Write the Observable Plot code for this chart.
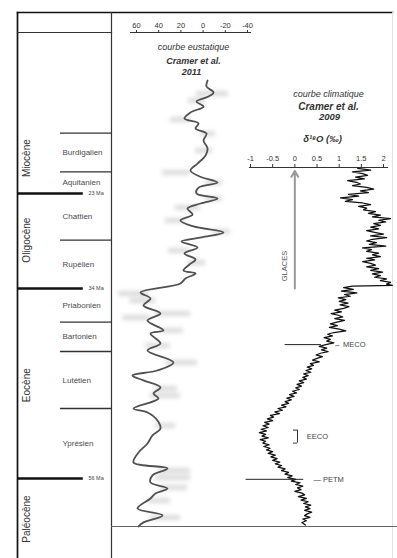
<!DOCTYPE html>
<html>
<head>
<meta charset="utf-8">
<script src="https://cdn.jsdelivr.net/npm/d3@7"></script>
<script src="https://cdn.jsdelivr.net/npm/@observablehq/plot@0.6"></script>
<style>
  html, body { margin: 0; padding: 0; background: #fff; }
  #chart { position: relative; width: 397px; height: 558px; overflow: hidden; }
  #chart svg { position: absolute; left: 0; top: 0; }
</style>
</head>
<body>
<div id="chart"></div>
<script>
// ---- stratigraphy (ages in Ma) ----
const epochNames = ["Miocène", "Oligocène", "Eocène", "Paléocène"];
const epochLabelAge = [18.9, 28.4, 45.2, 60.7];
const epochBoundaryAge = [23, 34, 56];

const stageNames = ["Burdigalien", "Aquitanien", "Chattien", "Rupélien", "Priabonien", "Bartonien", "Lutétien", "Yprésien"];
const stageTop  = [16.0, 20.5, 23, 28.4, 34, 37.9, 41.3, 47.9];
const stageBase = [20.5, 23, 28.4, 34, 37.9, 41.3, 47.9, 56];
const stageLineAge = [16.0, 20.5, 28.4, 37.9, 41.3, 47.9];

// ---- eustatic curve (sea level, m) ----
const seaLevelTicks = [60, 40, 20, 0, -20, -40];
const eustaticAge = [9.92, 10.61, 11.30, 11.77, 12.35, 12.93, 13.62, 14.32, 14.89, 15.47,
  16.05, 16.86, 17.79, 18.60, 19.53, 20.34, 21.03, 21.73, 22.31, 23.00,
  23.58, 24.16, 24.74, 25.43, 26.13, 26.82, 27.52, 28.09, 28.56, 29.25,
  29.95, 30.64, 31.22, 31.92, 32.26, 32.84, 33.42, 34.46, 35.16, 35.97,
  36.90, 37.71, 38.86, 39.21, 40.37, 41.18, 42.57, 43.50, 44.07, 44.65,
  45.46, 46.16, 46.74, 47.90, 48.36, 49.29, 50.21, 51.02, 51.95, 52.99,
  54.15, 54.84, 55.65, 56.46, 57.16, 57.74, 58.32, 59.47, 60.28, 61.09, 61.56];
const seaLevel = [-4.0, -3.1, -9.4, -4.9, 5.9, -0.4, 11.4, 16.8, 4.1, 6.8,
  -3.1, -0.4, -4.0, -2.2, 5.0, 11.4, 3.2, -13.0, 4.1, 5.9,
  -13.0, 2.3, 14.1, 9.5, 20.4, 8.6, -18.4, 1.4, 19.5, 5.0,
  16.8, 6.8, 12.3, 17.7, 6.8, 15.9, 20.4, 56.4, 47.4, 53.7,
  38.4, 50.1, 35.7, 47.4, 38.4, 50.1, 26.7, 41.1, 63.6, 53.7,
  38.4, 44.7, 40.2, 62.7, 50.1, 41.1, 38.4, 45.6, 50.1, 58.2,
  62.7, 32.1, 45.6, 47.4, 32.1, 42.9, 47.4, 59.1, 36.6, 53.7, 58.2];
// uncertainty streaks around the sea-level estimate
const rangeAge  = [11.42, 12.23, 14.43, 16.05, 18.02, 20.57, 21.73, 23.58, 24.62, 26.13,
  27.40, 29.60, 30.99, 34.58, 35.39, 36.90, 37.36, 38.86, 40.60, 42.57,
  45.58, 46.39, 49.86, 55.07, 55.89, 57.04, 58.55, 60.52];
const rangeHigh = [5.9, 13.2, 29.4, 2.3, 6.8, 36.6, -2.2, -2.2, 24.9, 33.9,
  -8.5, 31.2, 13.2, 76.2, 65.8, 42.9, 72.5, 38.4, 51.9, 33.9,
  42.9, 47.4, 42.9, 40.2, 42.9, 38.4, 49.2, 47.4];
const rangeLow  = [-22.9, -2.2, 11.4, -11.2, -8.5, 11.4, -17.5, -17.5, 2.3, 15.9,
  -24.7, 11.4, -2.2, 49.2, 42.9, 11.4, 47.4, 17.7, 29.4, 5.0,
  23.1, 20.4, 24.9, 11.4, 11.4, 14.1, 29.4, 20.4];

// ---- climate curve (benthic δ18O, ‰) ----
const d18OTicks = [-1, -0.5, 0, 0.5, 1, 1.5, 2];
const climateAge = [20.1, 20.3, 20.5, 20.7, 20.9, 21.1, 21.3, 21.5, 21.7, 21.9,
  22.1, 22.3, 22.5, 22.7, 22.9, 23.1, 23.3, 23.5, 23.7, 23.9,
  24.1, 24.3, 24.5, 24.7, 24.9, 25.1, 25.3, 25.5, 25.7, 25.9,
  26.1, 26.3, 26.5, 26.7, 26.9, 27.1, 27.3, 27.5, 27.7, 27.9,
  28.1, 28.3, 28.5, 28.7, 28.9, 29.1, 29.3, 29.5, 29.7, 29.9,
  30.1, 30.3, 30.5, 30.7, 30.9, 31.1, 31.3, 31.5, 31.7, 31.9,
  32.1, 32.3, 32.5, 32.7, 32.9, 33.1, 33.3, 33.5, 33.65,
  33.72, 33.9, 34.1, 34.3, 34.5, 34.7, 34.9, 35.1, 35.3, 35.5,
  35.7, 35.9, 36.1, 36.3, 36.5, 36.7, 36.9, 37.1, 37.3, 37.5,
  37.7, 37.9, 38.1, 38.3, 38.5, 38.7, 38.9, 39.1, 39.3, 39.5,
  39.7, 39.9, 40.1, 40.3, 40.5, 40.7, 40.9, 41.1, 41.3, 41.5,
  41.7, 41.9, 42.1, 42.3, 42.5, 42.7, 42.9, 43.1, 43.3, 43.5,
  43.7, 43.9, 44.1, 44.3, 44.5, 44.7, 44.9, 45.1, 45.3, 45.5,
  45.7, 45.9, 46.1, 46.3, 46.5, 46.7, 46.9, 47.1, 47.3, 47.5,
  47.7, 47.9, 48.1, 48.3, 48.5, 48.7, 48.9, 49.1, 49.3, 49.5,
  49.7, 49.9, 50.1, 50.3, 50.5, 50.7, 50.9, 51.1, 51.3, 51.5,
  51.7, 51.9, 52.1, 52.3, 52.5, 52.7, 52.9, 53.1, 53.3, 53.5,
  53.7, 53.9, 54.1, 54.3, 54.5, 54.7, 54.9, 55.1, 55.3, 55.5,
  55.7, 55.9, 56.1, 56.3, 56.5, 56.7, 56.9, 57.1, 57.3, 57.5,
  57.7, 57.9, 58.1, 58.3, 58.5, 58.7, 58.9, 59.1, 59.3, 59.5,
  59.7, 59.9, 60.1, 60.3, 60.5, 60.7, 60.9, 61.1, 61.4];
const climateD18O = [1.42, 1.71, 1.30, 1.53, 1.64, 1.37, 1.57, 1.19, 1.39, 1.48,
  1.30, 1.62, 1.78, 1.48, 1.66, 1.21, 1.44, 1.03, 1.30, 1.14,
  1.53, 1.71, 1.44, 1.62, 1.55, 1.82, 1.66, 1.93, 1.75, 2.16,
  1.89, 2.05, 1.78, 1.93, 1.71, 1.89, 1.62, 1.80, 2.00, 1.71,
  2.07, 1.75, 1.62, 1.84, 1.68, 2.05, 1.53, 1.73, 1.62, 1.89,
  1.75, 1.93, 1.62, 1.80, 1.53, 1.71, 1.82, 1.62, 1.89, 1.71,
  1.98, 1.75, 1.93, 1.80, 2.07, 1.93, 2.16, 2.07, 2.20,
  1.30, 1.10, 1.32, 1.05, 1.40, 1.12, 1.25, 0.98, 1.15, 1.00,
  1.20, 1.02, 1.22, 1.10, 0.90, 1.05, 0.82, 0.98, 1.08, 0.90,
  1.12, 0.95, 0.80, 0.96, 0.78, 1.00, 1.15, 0.88, 0.74, 0.85,
  0.66, 0.80, 0.72, 0.88, 0.70, 0.55, 0.72, 0.60, 0.75, 0.58,
  0.48, 0.62, 0.50, 0.40, 0.55, 0.35, 0.42, 0.28, 0.38, 0.25,
  0.36, 0.20, 0.30, 0.18, 0.26, 0.10, 0.20, 0.05, 0.15, 0.02,
  0.10, -0.05, 0.04, -0.12, -0.02, -0.18, -0.08, -0.22, -0.14, -0.30,
  -0.20, -0.38, -0.28, -0.45, -0.35, -0.55, -0.48, -0.62, -0.50, -0.68,
  -0.58, -0.72, -0.60, -0.76, -0.64, -0.80, -0.66, -0.74, -0.60, -0.78,
  -0.66, -0.72, -0.58, -0.70, -0.56, -0.64, -0.50, -0.60, -0.44, -0.54,
  -0.40, -0.50, -0.34, -0.44, -0.30, -0.38, -0.22, -0.30, -0.14, -0.22,
  -0.06, -0.16, 0.02, -0.08, 0.12, 0.02, 0.18, 0.06, 0.14, 0.00,
  0.16, 0.22, 0.08, 0.26, 0.14, 0.30, 0.20, 0.36, 0.24, 0.34,
  0.22, 0.38, 0.28, 0.22, 0.34, 0.18, 0.26, 0.16, 0.24];

// climatic events marked on the δ18O record
const glacesArrow = {x: 0, from: 34, to: 20.4};
const eventRules = [
  {name: "MECO", age: 40.5, from: -0.22, to: 0.6, labelX: 0.87, label: "← MECO"},
  {name: "PETM", age: 56.1, from: -1.1, to: 0.2, labelX: 0.42, label: "— PETM"}
];
const eeco = {top: 50.4, base: 51.9, x: 0.06, serif: -0.03, labelX: 0.27, label: "EECO"};

// ---- tables for the marks ----
const stages = stageNames.map((name, i) => ({name, mid: (stageTop[i] + stageBase[i]) / 2}));
const epochs = epochNames.map((name, i) => ({name, age: epochLabelAge[i]}));
const eustatic = eustaticAge.map((age, i) => ({age, level: seaLevel[i]}));
const eustaticRange = rangeAge.map((age, i) => ({age, high: rangeHigh[i], low: rangeLow[i]}));
const climate = climateAge.map((age, i) => ({age, d18O: climateD18O[i]}));

// ---- layout ----
const W = 397, H = 558;
const FONT = "'Liberation Sans', Arial, sans-serif";
const STYLE = `background:transparent;overflow:visible;font-family:${FONT};`;
// every panel shares the same vertical age scale
const ageScale = () => ({domain: [0.65, 65.27], range: [0, H], axis: null});
const chart = document.getElementById("chart");
function layer(opts) {
  const svg = Plot.plot({width: W, height: H, style: STYLE, ...opts});
  chart.append(svg);
  return svg;
}
const title = (text, dx, dy, size, bold) => Plot.text([text], {
  frameAnchor: "top-left", textAnchor: "middle", dx, dy, fontSize: size,
  fontStyle: "italic", fontWeight: bold ? "bold" : "normal", fill: "#333"
});

// outer border
layer({
  marginTop: 12, marginLeft: 17, marginRight: 5, marginBottom: 0,
  x: {domain: [0, 1], axis: null}, y: {domain: [0, 1], axis: null},
  marks: [
    Plot.frame({anchor: "top", stroke: "#111", strokeWidth: 1.5}),
    Plot.frame({anchor: "right", stroke: "#e2e2e2", strokeWidth: 1})
  ]
});

// stratigraphic column
layer({
  marginTop: 12, marginLeft: 17, marginRight: 286, marginBottom: 0,
  x: {domain: [0, 1], axis: null},
  y: ageScale(),
  marks: [
    Plot.frame({anchor: "left", stroke: "#111", strokeWidth: 1.7}),
    Plot.frame({anchor: "right", stroke: "#333", strokeWidth: 1.2}),
    Plot.ruleY(stageLineAge, {x1: 0.457, x2: 1, stroke: "#333", strokeWidth: 1.3}),
    Plot.ruleY(epochBoundaryAge, {x1: 0, x2: 0.70, stroke: "#111", strokeWidth: 2.6}),
    Plot.text(epochBoundaryAge, {y: d => d, x: 0.755, text: d => `${d} Ma`, textAnchor: "start", fontSize: 5.5, fill: "#444"}),
    Plot.text(stages, {y: "mid", x: 0.479, text: "name", textAnchor: "start", fontSize: 8, fill: "#4a4a4a"}),
    Plot.text(epochs, {y: "age", x: 0.10, text: "name", rotate: -90, fontSize: 10, fill: "#333"})
  ]
});

// header rule of the column
layer({
  height: 40, marginTop: 32, marginLeft: 17, marginRight: 286, marginBottom: 0,
  x: {domain: [0, 1], axis: null}, y: {domain: [0, 1], axis: null},
  marks: [Plot.frame({anchor: "top", stroke: "#333", strokeWidth: 1.2})]
});

// eustatic curve
const euSvg = layer({
  marginTop: 12, marginLeft: 111, marginRight: 0, marginBottom: 32,
  x: {domain: [60, -40], range: [136, 247], axis: null},
  y: ageScale(),
  marks: [
    Plot.frame({anchor: "bottom", stroke: "#666", strokeWidth: 1.2}),
    Plot.ruleY(eustaticRange, {y: "age", x1: "high", x2: "low", stroke: "#cfcfcf", strokeWidth: 5, strokeOpacity: 0.75}),
    Plot.line(eustatic, {x: "level", y: "age", curve: "catmull-rom", stroke: "#505050", strokeWidth: 1.8}),
    title("courbe eustatique", 82, 31, 9, false),
    title("Cramer et al.", 82, 45, 9, true),
    title("2011", 80, 56, 9, true)
  ]
});
euSvg.querySelectorAll('g[aria-label="rule"]').forEach(g => g.style.filter = "blur(2px)");

// sea-level axis
layer({
  height: 40, marginTop: 32, marginLeft: 130, marginRight: 147, marginBottom: 0,
  x: {domain: [60, -40], range: [136, 247]}, y: {domain: [0, 1], axis: null},
  marks: [
    Plot.frame({anchor: "top", stroke: "#333", strokeWidth: 1}),
    Plot.axisX(seaLevelTicks, {anchor: "top", tickSize: 3, tickPadding: 2, fontSize: 7.5, tickFormat: d => String(d), stroke: "#333", fill: "#333"})
  ]
});

// climate curve
layer({
  marginTop: 167, marginLeft: 249, marginRight: 10, marginBottom: 32,
  x: {domain: [-1, 2], range: [250, 383]},
  y: ageScale(),
  marks: [
    Plot.frame({anchor: "top", stroke: "#333", strokeWidth: 1.1}),
    Plot.axisX(d18OTicks, {anchor: "top", tickSize: 4, tickPadding: 3, fontSize: 7.5, tickFormat: d => String(d), stroke: "#333", fill: "#333"}),
    Plot.arrow([glacesArrow], {x1: "x", x2: "x", y1: "from", y2: "to", stroke: "#999", strokeWidth: 2, headLength: 5}),
    Plot.text(["GLACES"], {x: -0.24, y: 31.4, rotate: -90, fontSize: 7.5, fill: "#555"}),
    Plot.line(climate, {x: "d18O", y: "age", stroke: "#111", strokeWidth: 1.25}),
    Plot.ruleY(eventRules, {y: "age", x1: "from", x2: "to", stroke: "#222", strokeWidth: 1}),
    Plot.text(eventRules, {y: "age", x: "labelX", text: "label", textAnchor: "start", fontSize: 7.5, fill: "#444"}),
    Plot.ruleX([eeco], {x: "x", y1: "top", y2: "base", stroke: "#333", strokeWidth: 1}),
    Plot.ruleY([eeco.top, eeco.base], {x1: eeco.serif, x2: eeco.x, stroke: "#333", strokeWidth: 1}),
    Plot.text([eeco], {x: "labelX", y: d => (d.top + d.base) / 2, text: "label", textAnchor: "start", fontSize: 7.5, fill: "#444"}),
    title("courbe climatique", 79, -77, 9, false),
    title("Cramer et al.", 79, -65, 10, true),
    title("2009", 80, -54, 9.5, true),
    title("δ¹⁸O (‰)", 73, -32, 9.5, true)
  ]
});
</script>
</body>
</html>
